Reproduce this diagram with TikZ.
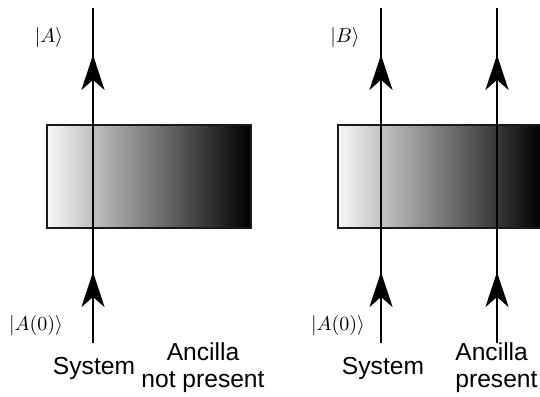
\documentclass[tikz,border=0pt]{standalone}
\usepackage{amsmath}
\usepackage{fontspec}
\setsansfont{Liberation Sans}
\usetikzlibrary{arrows.meta,decorations.markings}
\tikzset{
  wline/.style={line width=1.4pt, black, postaction={decorate},
    decoration={markings,
      mark=at position 0.212 with {\arrow{Stealth[length=17.5pt, width=11.5pt, inset=5pt]}},
      mark=at position 0.86 with {\arrow{Stealth[length=17.5pt, width=11.5pt, inset=5pt]}}}},
  gradbox/.style={draw=black!90, line width=1.4pt, left color=black!3, right color=black},
  ket/.style={inner sep=0pt},
  caption/.style={font=\sffamily\fontsize{12.3}{13.5}\selectfont, inner sep=0pt},
}
\begin{document}
\begin{tikzpicture}[x=0.5pt, y=-0.5pt]
\useasboundingbox (0,0) rectangle (540,396);
% left: ancilla not present
\draw[gradbox] (47,125) rectangle (251,228);
\coordinate (sysL-bot) at (93,343); \coordinate (sysL-top) at (93,8);
\draw[wline] (sysL-bot) -- (sysL-top);
\node[ket] (ketA) at (49,37) {$|A\rangle$};
\node[ket] (ketA0L) at (36,325) {$|A(0)\rangle$};
\node[caption] (sysL) at (94,368) {System};
\node[caption, align=center] (ancL) at (203,368) {Ancilla\\not present};
% right: ancilla present
\draw[gradbox] (338,125) rectangle (542,228);
\coordinate (sysR-bot) at (381,343); \coordinate (sysR-top) at (381,8);
\coordinate (ancR-bot) at (497,343); \coordinate (ancR-top) at (497,8);
\draw[wline] (sysR-bot) -- (sysR-top);
\draw[wline] (ancR-bot) -- (ancR-top);
\node[ket] (ketB) at (345,37) {$|B\rangle$};
\node[ket] (ketA0R) at (338,325) {$|A(0)\rangle$};
\node[caption] (sysR) at (383,368) {System};
\node[caption, align=left, anchor=west] (ancR) at (455,368) {Ancilla\\present};
\end{tikzpicture}
\end{document}
